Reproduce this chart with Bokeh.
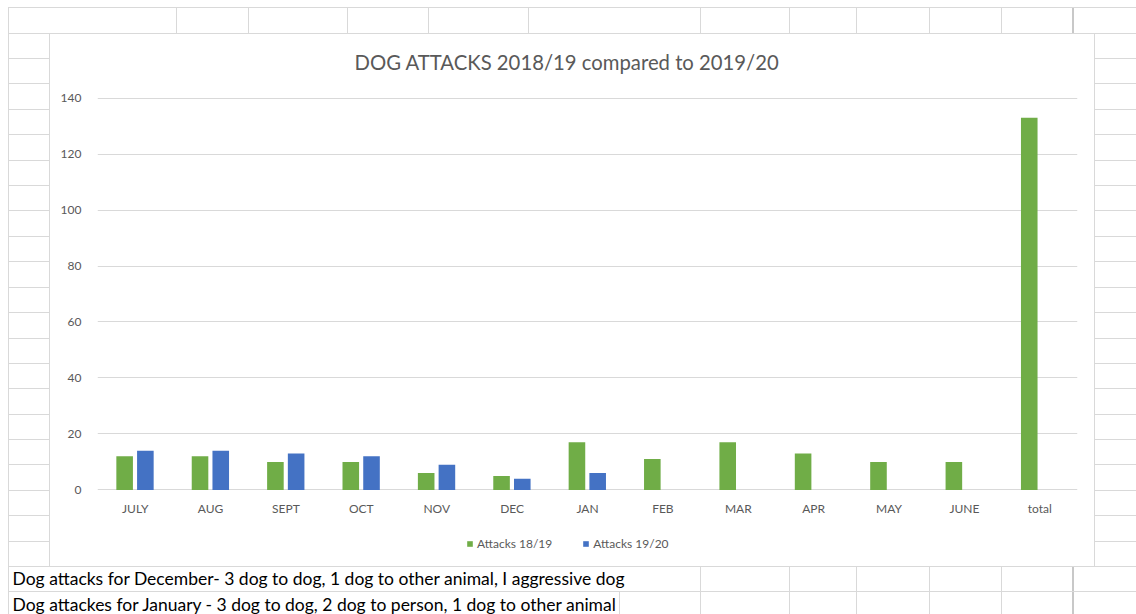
from bokeh.plotting import figure
from bokeh.layouts import column
from bokeh.models import (FactorRange, Range1d, FixedTicker, Legend, LegendItem,
                          Title, ColumnDataSource)
from bokeh.transform import dodge
from bokeh.embed import file_html
from bokeh.resources import INLINE

# ---------------- data ----------------
months = ["JULY", "AUG", "SEPT", "OCT", "NOV", "DEC", "JAN", "FEB", "MAR",
          "APR", "MAY", "JUNE", "total"]
attacks_1819 = [12, 12, 10, 10, 6, 5, 17, 11, 17, 13, 10, 10, 133]
months_1920 = ["JULY", "AUG", "SEPT", "OCT", "NOV", "DEC", "JAN"]
attacks_1920 = [14, 14, 13, 12, 9, 4, 6]
y_ticks = [0, 20, 40, 60, 80, 100, 120, 140]
series_names = ["Attacks 18/19", "Attacks 19/20"]
title_text = "DOG ATTACKS 2018/19 compared to 2019/20"
notes = ["Dog attacks for December- 3 dog to dog, 1 dog to other animal, I aggressive dog",
         "Dog attackes for January - 3 dog to dog, 2 dog to person, 1 dog to other animal"]

GREEN = "#70ad47"
BLUE = "#4472c4"
TXT = "#595959"
GRID = "#d9d9d9"
CELL = "#d9d9d9"
CELL_DARK = "#c8c8c8"
FONT = "Lato"

src_a = ColumnDataSource(dict(month=months, v=attacks_1819))
src_b = ColumnDataSource(dict(month=months_1920, v=attacks_1920))
x_range = FactorRange(*months, range_padding=0)

# ---------------- chart (upper part of the sheet) ----------------
p = figure(x_range=x_range, y_range=Range1d(-2, 142),
           frame_width=980, frame_height=403,
           min_border_left=97, min_border_right=59,
           min_border_top=92, min_border_bottom=25,
           output_backend="svg", toolbar_location=None)
p.outline_line_color = None
p.background_fill_color = "white"
p.border_fill_color = None


def bars(fig):
    ra = fig.vbar(x=dodge("month", -0.14, range=x_range), top="v", width=0.22,
                  source=src_a, fill_color=GREEN, line_color=None)
    rb = fig.vbar(x=dodge("month", 0.135, range=x_range), top="v", width=0.22,
                  source=src_b, fill_color=BLUE, line_color=None)
    return ra, rb


bars(p)

p.xgrid.visible = False
p.ygrid.grid_line_color = GRID
p.ygrid.grid_line_width = 1
p.yaxis.ticker = FixedTicker(ticks=y_ticks)

for ax in (p.xaxis[0], p.yaxis[0]):
    ax.axis_line_color = None
    ax.major_tick_line_color = None
    ax.minor_tick_line_color = None
    ax.major_tick_out = 0
    ax.major_tick_in = 0
    ax.minor_tick_out = 0
    ax.minor_tick_in = 0
    ax.major_label_text_color = TXT
    ax.major_label_text_font = FONT
    ax.major_label_text_font_size = "12px"
p.yaxis.major_label_standoff = 16
p.xaxis.major_label_standoff = 5

p.title.text = title_text
p.title.align = "left"
p.title.offset = 257
p.title.standoff = 38
p.title.text_font = FONT
p.title.text_font_size = "20.3px"
p.title.text_font_style = "normal"
p.title.text_color = TXT

# ---------------- lower strip: chart legend + the two note rows ----------------
# hidden copies of the bars only feed the legend keys
pb = figure(x_range=x_range, y_range=Range1d(1000, 1100), title=None,
            frame_width=980, frame_height=42,
            min_border_left=97, min_border_right=59,
            min_border_top=0, min_border_bottom=52,
            x_axis_location=None, y_axis_location=None,
            output_backend="svg", toolbar_location=None)
pb.grid.visible = False
pb.outline_line_color = None
pb.background_fill_color = None
pb.border_fill_color = None
key_a, key_b = bars(pb)
key_a.visible = False
key_b.visible = False

legend = Legend(items=[LegendItem(label=series_names[0], renderers=[key_a]),
                       LegendItem(label=series_names[1], renderers=[key_b])],
                orientation="horizontal", location=(369, 9),
                glyph_width=7, glyph_height=7, label_height=20, label_standoff=4,
                spacing=30, label_text_font=FONT, label_text_font_size="12px",
                label_text_color=TXT, border_line_color=None,
                background_fill_alpha=0, inactive_fill_alpha=0,
                padding=0, margin=0)
pb.add_layout(legend)

for txt, so in zip(notes, [6, 0]):
    pb.add_layout(Title(text=txt, align="left", offset=-85, standoff=so,
                        text_font=FONT, text_font_size="17.5px",
                        text_font_style="normal", text_color="black"), "below")

# ---------------- spreadsheet cell lines (CSS background strips) ----------------
layers = []


def hl(y, x0, x1, c=CELL, w=1):
    layers.append((c, x1 - x0, w, x0, y))


def vl(x, y0, y1, c=CELL, w=1):
    layers.append((c, w, y1 - y0, x, y0))


hl(7, 8, 1136)
hl(33, 8, 1136)
hl(566, 8, 1136)
hl(591, 8, 1136)
for k in range(2, 22):
    yy = int(round(7.3 + 25.4 * k))
    hl(yy, 8, 49)
    hl(yy, 1094, 1136)
vl(8, 7, 614)
for xx in [176, 248, 347, 428, 528, 700, 789, 856, 929, 1001]:
    vl(xx, 7, 33)
vl(1072, 7, 33, CELL_DARK, 2)
for xx in [700, 789, 856, 929, 1001]:
    vl(xx, 566, 614)
vl(1072, 566, 614, CELL_DARK, 2)
vl(619, 591, 614)
vl(49, 33, 567)
vl(1094, 33, 567)

page = column(p, pb, spacing=0)
page.styles = {
    "background-color": "white",
    "background-image": ", ".join(f"linear-gradient({c}, {c})" for c, *_ in layers),
    "background-size": ", ".join(f"{w}px {h}px" for _, w, h, _x, _y in layers),
    "background-position": ", ".join(f"{x}px {y}px" for *_, x, y in layers),
    "background-repeat": "no-repeat",
}

open("out.html", "w").write(file_html(page, INLINE))
